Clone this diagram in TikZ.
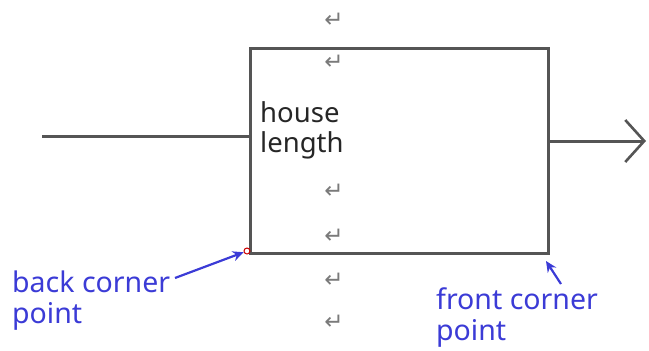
\documentclass[tikz,border=0pt]{standalone}
\usepackage{fontspec}
\setmainfont{Noto Sans}
\newfontfamily\symfont{DejaVu Sans}
\usetikzlibrary{arrows.meta}
\definecolor{linegray}{HTML}{555555}
\definecolor{markgray}{HTML}{7A7A7A}
\definecolor{noteblue}{HTML}{3B3BD6}
\tikzset{
  boxline/.style={draw=linegray, line width=3pt},
  retmark/.style={text=markgray, font=\symfont\fontsize{23}{23}\selectfont, inner sep=0pt},
  note/.style={text=noteblue, font=\fontsize{28.5}{31}\selectfont, align=left, inner sep=0pt, anchor=north west},
  plain/.style={text=black!85, font=\fontsize{27.5}{30}\selectfont, align=left, inner sep=0pt, anchor=north west},
  notearrow/.style={draw=noteblue, line width=2.2pt, -{Stealth[length=11pt,width=10pt]}}
}
\begin{document}
\begin{tikzpicture}[x=1pt,y=-1pt]
\useasboundingbox (0,0) rectangle (649,351);
\draw[boxline] (250,48) rectangle (548,253);
\coordinate (lin) at (42,136);
\coordinate (lend) at (250,136);
\draw[boxline] (lin) -- (lend);
\coordinate (rs) at (548,141);
\coordinate (re) at (646,141);
\draw[boxline, -{Straight Barb[length=19pt,width=42pt,line width=2.6pt]}] (rs) -- (re);
\foreach \y/\n in {20/r1,62/r2,191/r3,236/r4,280/r5,322/r6}
  \node[retmark] (\n) at (334,\y) {↵};
\node[plain] (hl) at (260,101) {house\\length};
\node[note] (bc) at (12,271) {back corner\\point};
\node[note] (fc) at (436,287) {front corner\\point};
\node[draw=red!80!black, circle, minimum size=6pt, inner sep=0pt, line width=1pt] (bp) at (247,251) {};
\coordinate (bcs) at (175,278);
\coordinate (fcs) at (561,284);
\coordinate (fce) at (546,261);
\draw[notearrow] (bcs) -- (bp);
\draw[notearrow] (fcs) -- (fce);
\end{tikzpicture}
\end{document}
